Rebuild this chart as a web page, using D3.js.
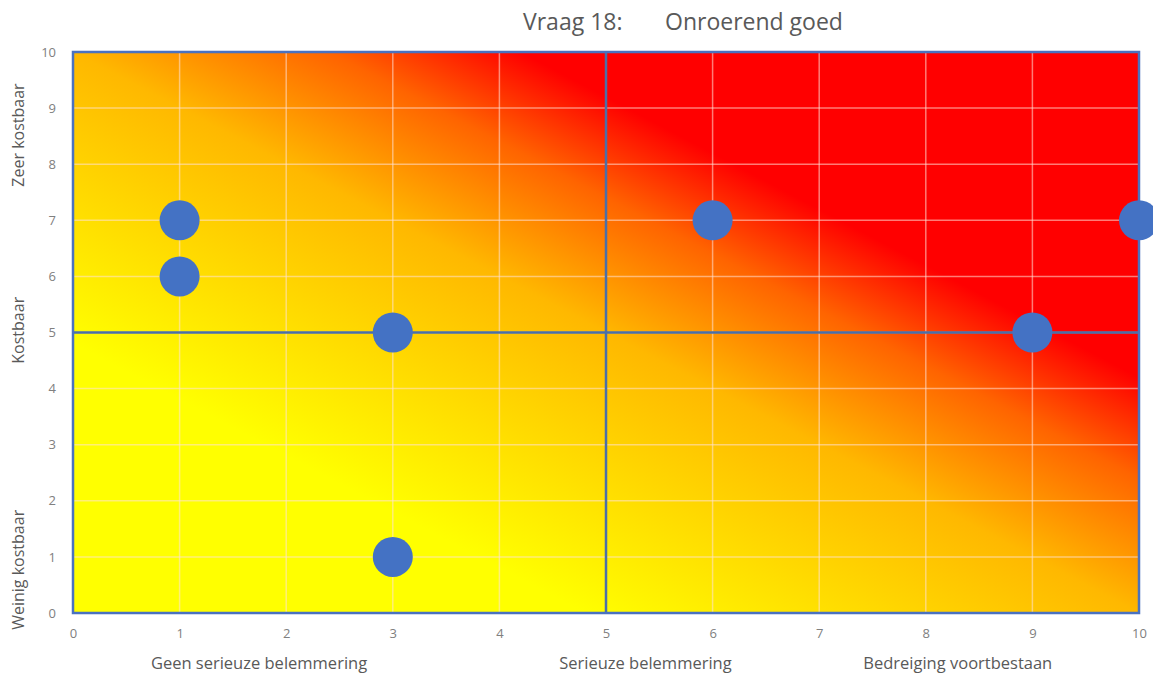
<!DOCTYPE html>
<html><head><meta charset="utf-8">
<script src="https://cdn.jsdelivr.net/npm/d3@7"></script>
<style>body{margin:0;background:#fff;} svg{display:block;}</style>
</head><body>
<svg id="c" width="1153" height="675"></svg>
<script>
const titleParts = ["Vraag 18:", "Onroerend goed"];
const xTicks = [0,1,2,3,4,5,6,7,8,9,10];
const yTicks = [0,1,2,3,4,5,6,7,8,9,10];
const xCategoryLabels = ["Geen serieuze belemmering", "Serieuze belemmering", "Bedreiging voortbestaan"];
const xCategoryPos = [1.745, 5.37, 8.3];
const yCategoryLabels = ["Zeer kostbaar", "Kostbaar", "Weinig kostbaar"];
const yCategoryPos = [8.52, 5.04, 0.77];
const pointsX = [1, 1, 3, 3, 6, 9, 10];
const pointsY = [7, 6, 5, 1, 7, 5, 7];
const midX = 5, midY = 5;

const svg = d3.select("#c");
const L = 73, R = 1139, T = 52, B = 613;
const x = d3.scaleLinear().domain([0,10]).range([L,R]);
const y = d3.scaleLinear().domain([0,10]).range([B,T]);

const defs = svg.append("defs");
const g = defs.append("linearGradient").attr("id","bg")
  .attr("x1",0).attr("y1",1).attr("x2",1).attr("y2",0);
[[0,"#ffff00"],[0.24,"#ffff00"],[0.5,"#ffb800"],[0.62,"#ff6400"],[0.71,"#ff0000"],[1,"#ff0000"]]
  .forEach(s=>g.append("stop").attr("offset",s[0]).attr("stop-color",s[1]));

svg.append("rect").attr("x",L).attr("y",T).attr("width",R-L).attr("height",B-T).attr("fill","url(#bg)");

// gridlines
svg.append("g").selectAll("line").data(xTicks.slice(1,-1)).join("line")
  .attr("x1",d=>x(d)).attr("x2",d=>x(d)).attr("y1",T).attr("y2",B)
  .attr("stroke","rgba(255,225,215,0.55)").attr("stroke-width",1.5);
svg.append("g").selectAll("line").data(yTicks.slice(1,-1)).join("line")
  .attr("y1",d=>y(d)).attr("y2",d=>y(d)).attr("x1",L).attr("x2",R)
  .attr("stroke","rgba(255,225,215,0.55)").attr("stroke-width",1.5);

// midlines
svg.append("line").attr("x1",x(midX)).attr("x2",x(midX)).attr("y1",T).attr("y2",B)
  .attr("stroke","#4a6fa8").attr("stroke-width",2.5);
svg.append("line").attr("y1",y(midY)).attr("y2",y(midY)).attr("x1",L).attr("x2",R)
  .attr("stroke","#4a6fa8").attr("stroke-width",2.5);

// border
svg.append("rect").attr("x",L).attr("y",T).attr("width",R-L).attr("height",B-T)
  .attr("fill","none").attr("stroke","#4a72c0").attr("stroke-width",2.5);

// axes
const font = "'Open Sans', 'Noto Sans', sans-serif";
const xa = svg.append("g").attr("transform",`translate(0,${B})`)
  .call(d3.axisBottom(x).tickValues(xTicks).tickSize(0).tickPadding(16).tickFormat(d3.format("d")));
xa.select(".domain").remove();
xa.selectAll("text").attr("fill","#808080").style("font-family",font).style("font-size","13px");
const ya = svg.append("g").attr("transform",`translate(${L},0)`)
  .call(d3.axisLeft(y).tickValues(yTicks).tickSize(0).tickPadding(17).tickFormat(d3.format("d")));
ya.select(".domain").remove();
ya.selectAll("text").attr("fill","#808080").style("font-family",font).style("font-size","13px");

// points
svg.append("g").selectAll("circle").data(pointsX.map((d,i)=>[d,pointsY[i]])).join("circle")
  .attr("cx",d=>x(d[0])).attr("cy",d=>y(d[1])).attr("r",20).attr("fill","#4472c4");

// category labels
svg.append("g").selectAll("text").data(xCategoryLabels).join("text")
  .attr("x",(d,i)=>x(xCategoryPos[i])).attr("y",669).attr("text-anchor","middle")
  .attr("fill","#595959").style("font-family",font).style("font-size","16.5px").text(d=>d);
svg.append("g").selectAll("text").data(yCategoryLabels).join("text")
  .attr("transform",(d,i)=>`translate(24,${y(yCategoryPos[i])}) rotate(-90)`).attr("text-anchor","middle")
  .attr("fill","#595959").style("font-family",font).style("font-size","16px").text(d=>d);

// title
svg.append("text").attr("x",523).attr("y",30).attr("fill","#595959")
  .style("font-family",font).style("font-size","23px").text(titleParts[0]);
svg.append("text").attr("x",665).attr("y",30).attr("fill","#595959")
  .style("font-family",font).style("font-size","23px").text(titleParts[1]);
</script>
</body></html>
